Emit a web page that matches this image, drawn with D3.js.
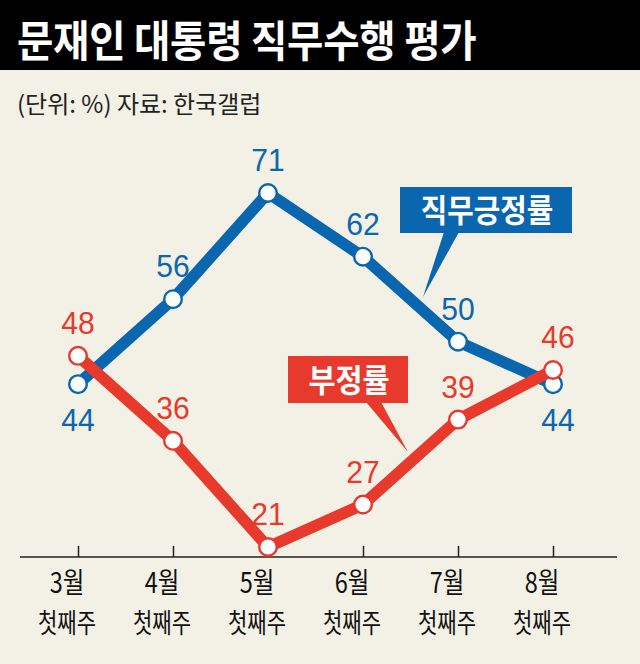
<!DOCTYPE html>
<html><head><meta charset="utf-8">
<script src="https://cdn.jsdelivr.net/npm/d3@7/dist/d3.min.js"></script>
<style>html,body{margin:0;padding:0;background:#f3f0e5;}svg{display:block;}</style>
</head><body>
<script>
const months = ["3월","4월","5월","6월","7월","8월"];
const weekLabel = "첫째주";
const positive = [44, 56, 71, 62, 50, 44];
const negative = [48, 36, 21, 27, 39, 46];
const titleText = "문재인 대통령 직무수행 평가";
const subtitleText = "(단위: %) 자료: 한국갤럽";
const posName = "직무긍정률";
const negName = "부정률";

const W = 640, H = 664;
const BLUE = "#0b66b0", RED = "#e8392d", BG = "#f3f0e5";
const KR = "'Noto Sans CJK KR','Noto Sans',sans-serif";
const NUM = "'Liberation Sans',Arial,sans-serif";

const svg = d3.select("body").append("svg").attr("width", W).attr("height", H);
svg.append("rect").attr("width", W).attr("height", H).attr("fill", BG);

// title bar
svg.append("rect").attr("x",0).attr("y",0).attr("width",W).attr("height",70).attr("fill","#000");
svg.append("text").attr("transform","translate(17,57) scale(0.92,1)").attr("fill","#fff")
  .attr("font-family",KR).attr("font-weight",700).attr("font-size",43)
  .attr("letter-spacing",-0.3).text(titleText);
svg.append("text").attr("x",17).attr("y",113).attr("fill","#222")
  .attr("font-family",KR).attr("font-size",24).text(subtitleText);

const x = d3.scalePoint().domain(months).range([78, 553]);
const y = d3.scaleLinear().domain([21, 71]).range([547, 193]);
const axisY = y(19.6);

// axis
const axis = d3.axisTop(x).tickSize(11).tickFormat("");
const ag = svg.append("g").attr("transform",`translate(0,${axisY})`).call(axis);
ag.select(".domain").remove();
ag.selectAll(".tick line").attr("stroke","#222").attr("stroke-width",1.5);
svg.append("line").attr("x1",20).attr("x2",617).attr("y1",axisY).attr("y2",axisY)
  .attr("stroke","#222").attr("stroke-width",1.5);

const lab = svg.append("g");
months.forEach(m => {
  const g = lab.append("g").attr("transform",`translate(${x(m)-11},0)`);
  g.append("text").attr("transform","translate(0,593) scale(0.84,1)")
    .attr("text-anchor","middle").attr("font-family",KR).attr("font-size",28).attr("fill","#111").text(m);
  g.append("text").attr("transform","translate(0,633) scale(0.78,1)")
    .attr("text-anchor","middle").attr("font-family",KR).attr("font-size",27).attr("fill","#111").text(weekLabel);
});

// callouts
function callout(box, tri, color, text, tx, ty, fs, sx){
  const g = svg.append("g");
  g.append("rect").attr("x",box[0]).attr("y",box[1]).attr("width",box[2]).attr("height",box[3]).attr("fill",color);
  g.append("polygon").attr("points",tri.map(p=>p.join(",")).join(" ")).attr("fill",color);
  g.append("text").attr("transform",`translate(${tx},${ty}) scale(${sx},1)`)
    .attr("text-anchor","middle").attr("font-family",KR).attr("font-weight",700)
    .attr("font-size",fs).attr("fill","#fff").text(text);
}
callout([400,187,172,46],[[444,232],[459,232],[423,297]],BLUE,posName,487,222,32,0.9);
callout([288,356,120,47],[[366,402],[381,402],[408,452]],RED,negName,349,392,32,0.92);

const line = d3.line().x((d,i)=>x(months[i])).y(d=>y(d));

function drawSeries(vals, other, color){
  svg.append("path").datum(vals).attr("d",line).attr("fill","none")
    .attr("stroke",color).attr("stroke-width",11.5).attr("stroke-linejoin","miter");
  svg.append("g").selectAll("circle").data(vals).join("circle")
    .attr("cx",(d,i)=>x(months[i])).attr("cy",d=>y(d)).attr("r",8.8)
    .attr("fill","#fff").attr("stroke",color).attr("stroke-width",2.4);
}
function drawLabels(vals, other, color){
  svg.append("g").selectAll("text").data(vals).join("text")
    .attr("transform",(d,i)=>{
      const below = other[i] > d && other[i]-d < 10;
      const tx = x(months[i]) + (i===months.length-1 ? 5 : 0);
      const ty = below ? y(d)+47 : y(d)-22;
      return `translate(${tx},${ty}) scale(0.94,1)`;
    })
    .attr("text-anchor","middle").attr("font-family",NUM).attr("font-size",32)
    .attr("fill",color).text(d=>d);
}
drawSeries(positive, negative, BLUE);
drawSeries(negative, positive, RED);
drawLabels(positive, negative, BLUE);
drawLabels(negative, positive, RED);
</script>
</body></html>
